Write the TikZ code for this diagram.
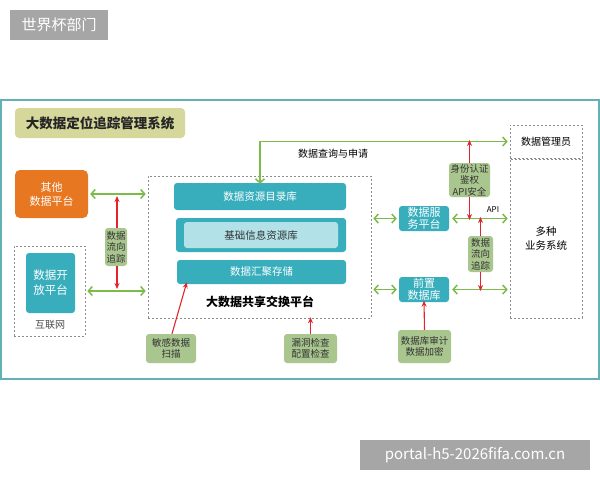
\documentclass[tikz,border=0pt]{standalone}
\usepackage{fontspec}
\setmainfont{Noto Sans CJK SC}
\usetikzlibrary{arrows.meta,positioning}
\definecolor{tealbox}{HTML}{38AEBD}
\definecolor{tealin}{HTML}{B2E2E8}
\definecolor{orangebox}{HTML}{E87722}
\definecolor{greenbox}{HTML}{A9C68F}
\definecolor{gline}{HTML}{7CBB4A}
\definecolor{rline}{HTML}{E0262C}
\definecolor{framec}{HTML}{63B1B5}
\definecolor{titlec}{HTML}{D6D79B}
\definecolor{wmgray}{HTML}{A6A6A6}
\tikzset{
  box/.style={rounded corners=3pt, inner sep=0pt, align=center, font=\fontsize{10.5}{12.5}\selectfont},
  tealn/.style={box, fill=tealbox, text=white},
  greenn/.style={box, fill=greenbox, text=black!80, font=\fontsize{9.5}{11.5}\selectfont},
  dbox/.style={draw=black!45, dash pattern=on 2pt off 2pt, line width=0.6pt, inner sep=0pt},
  garrow/.style={draw=gline, line width=1.5pt, arrows={Straight Barb[length=4pt,width=9pt]-Straight Barb[length=4pt,width=9pt]}},
  rarrow/.style={draw=rline, line width=1.1pt, -{Stealth[length=6pt,width=5pt]}},
  wm/.style={fill=wmgray, text=white, inner sep=0pt, font=\fontsize{15}{18}\selectfont}
}
\begin{document}
\begin{tikzpicture}[x=1pt,y=-1pt]
\useasboundingbox (0,0) rectangle (600,480);
\fill[white] (0,0) rectangle (600,480);
% department label
\node[wm, minimum width=98pt, minimum height=30pt] (dept) at (59,25) {世界杯部门};
% frame
\draw[framec, line width=1.6pt] (1,100) rectangle (599,379);
\node[box, fill=titlec, rounded corners=4pt, minimum width=170pt, minimum height=30pt, font=\fontsize{13.5}{16}\selectfont\bfseries, text=black!85] (title) at (100,123) {大数据定位追踪管理系统};
% left side
\node[box, fill=orangebox, text=white, rounded corners=5pt, minimum width=73pt, minimum height=48pt, font=\fontsize{11}{14}\selectfont] (other) at (51.5,194) {其他\\数据平台};
\node[dbox, minimum width=71pt, minimum height=90pt] (inet) at (49.5,291) {};
\node[box, fill=tealbox, text=white, minimum width=49pt, minimum height=60pt, font=\fontsize{11.5}{15}\selectfont] (open) at (50.5,283) {数据开\\放平台};
\node[font=\fontsize{10}{12}\selectfont, text=black!70] (inetlbl) at (50,325) {互联网};
% big platform
\node[dbox, minimum width=223pt, minimum height=142pt] (big) at (259.5,247) {};
\node[tealn, minimum width=172pt, minimum height=27pt] (catalog) at (260,196.5) {数据资源目录库};
\node[tealn, minimum width=170pt, minimum height=34pt] (basic) at (261,235) {};
\node[box, fill=tealin, text=black!80, minimum width=154pt, minimum height=26pt] (basicin) at (261,235) {基础信息资源库};
\node[tealn, minimum width=169pt, minimum height=24pt] (store) at (261.5,272) {数据汇聚存储};
\node[font=\fontsize{12}{14}\selectfont\bfseries, text=black] (bigtitle) at (260,302) {大数据共享交换平台};
% left tracking
\node[greenn, minimum width=22pt, minimum height=38pt] (trackL) at (116,247) {数据\\流向\\追踪};
% right side
\node[dbox, minimum width=72pt, minimum height=33pt, font=\fontsize{10}{12}\selectfont] (admin) at (546,141.5) {数据管理员};
\node[dbox, minimum width=72pt, minimum height=159pt, align=center, font=\fontsize{10.5}{13.5}\selectfont] (biz) at (546,238.5) {多种\\业务系统};
\node[greenn, minimum width=41pt, minimum height=34pt] (auth) at (469.5,180) {身份认证\\鉴权\\API安全};
\node[tealn, minimum width=50pt, minimum height=25pt, font=\fontsize{11}{12.5}\selectfont] (svc) at (424,218.5) {数据服\\务平台};
\node[tealn, minimum width=50pt, minimum height=25pt, font=\fontsize{11}{12.5}\selectfont] (front) at (424,289.5) {前置\\数据库};
\node[greenn, minimum width=25pt, minimum height=36pt] (trackR) at (480.5,254) {数据\\流向\\追踪};
\node[greenn, minimum width=53pt, minimum height=33pt] (audit) at (424.5,346.5) {数据库审计\\数据加密};
\node[greenn, minimum width=50pt, minimum height=29pt] (scan) at (171,348.5) {敏感数据\\扫描};
\node[greenn, minimum width=53pt, minimum height=29pt] (vuln) at (310.5,348.5) {漏洞检查\\配置检查};
\node[font=\fontsize{8}{10}\selectfont] (apil) at (493,210) {API};
\node[font=\fontsize{10}{12}\selectfont] (query) at (333,154) {数据查询与申请};
% green connectors
\draw[garrow] ([xshift=2pt]other.east) -- ([xshift=-2pt]other.east -| big.west);
\draw[garrow] ([xshift=2pt]inet.east) -- ([xshift=-2pt]inet.east -| big.west);
\draw[garrow] ([yshift=-1pt]catalog.north) |- ([xshift=-2pt]admin.west);
\draw[garrow] ([xshift=2pt]svc.west -| big.east) -- ([xshift=-2pt]svc.west);
\draw[garrow] ([xshift=3pt]svc.east) -- ([xshift=-2pt]svc.east -| biz.west);
\draw[garrow] ([xshift=2pt]front.west -| big.east) -- ([xshift=-2pt]front.west);
\draw[garrow] ([xshift=3pt]front.east) -- ([xshift=-2pt]front.east -| biz.west);
% red connectors
\coordinate (l1) at (117,196);
\coordinate (l2) at (117,289);
\draw[rarrow] (trackL.north -| l1) -- (l1);
\draw[rarrow] (trackL.south -| l2) -- (l2);
\draw[rarrow] (auth.north) -- ([yshift=1.5pt]auth.north |- admin.west);
\draw[rarrow] (auth.south) -- ([yshift=-1.5pt]auth.south |- svc.east);
\draw[rarrow] (trackR.north) -- ([yshift=1.5pt]trackR.north |- svc.east);
\draw[rarrow] (trackR.south) -- ([yshift=-1.5pt]trackR.south |- front.east);
\draw[rarrow] (audit.north) -- ([yshift=1.5pt]front.south);
\draw[rarrow] ([xshift=1pt]scan.north) -- ([xshift=10pt,yshift=2pt]store.south west);
\draw[rarrow] (vuln.north) -- ([yshift=1pt]vuln.north |- big.south);
% watermark
\node[wm, minimum width=230pt, minimum height=30pt] (wmark) at (475,455) {portal-h5-2026fifa.com.cn};
\end{tikzpicture}
\end{document}
